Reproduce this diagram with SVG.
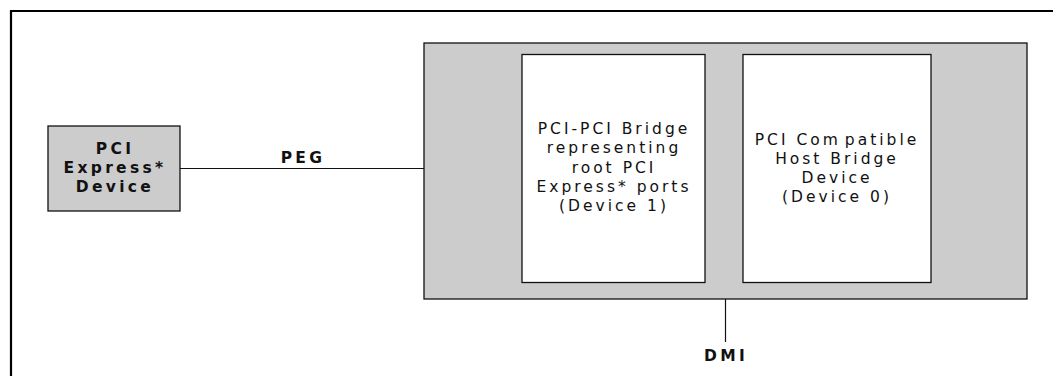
<svg xmlns="http://www.w3.org/2000/svg" width="1053" height="376" viewBox="0 0 1053 376">
<style>
.frame{fill:none;stroke:#000;stroke-width:2.2}
.gray{fill:#cccccc;stroke:#111;stroke-width:1.3}
.white{fill:#fff;stroke:#111;stroke-width:1.3}
.line{fill:none;stroke:#111;stroke-width:1.2}
.b{font-family:"DejaVu Sans",Verdana,sans-serif;font-size:15.5px;font-weight:bold;letter-spacing:3.3px;text-anchor:middle;fill:#111}
.r{font-family:"DejaVu Sans",Verdana,sans-serif;font-size:15.5px;letter-spacing:3px;text-anchor:middle;fill:#111}
</style>
<rect width="1053" height="376" fill="#fff"/>
<path class="frame" d="M11,376 V11 H1053"/>
<g id="connectors">
<line class="line" x1="180" y1="168.5" x2="424" y2="168.5"/>
<line class="line" x1="725.5" y1="299" x2="725.5" y2="342"/>
<text class="b" x="303" y="163">PEG</text>
<text class="b" x="726" y="361">DMI</text>
</g>
<g id="pci-express-device">
<rect class="gray" x="48" y="126" width="132" height="85"/>
<text class="b" x="115" y="154">PCI</text>
<text class="b" x="115" y="173">Express*</text>
<text class="b" x="115" y="192">Device</text>
</g>
<g id="host">
<rect class="gray" x="424" y="43" width="603" height="256"/>
</g>
<g id="device1">
<rect class="white" x="522" y="54.5" width="183" height="228"/>
<text class="r" x="614" y="134">PCI-PCI Bridge</text>
<text class="r" x="614" y="153">representing</text>
<text class="r" x="614" y="172.5">root PCI</text>
<text class="r" x="614" y="191.5">Express* ports</text>
<text class="r" x="614" y="211">(Device 1)</text>
</g>
<g id="device0">
<rect class="white" x="743" y="54.5" width="188" height="228"/>
<text class="r" x="837" y="145">PCI Com<tspan dx="4">patible</tspan></text>
<text class="r" x="837" y="164">Host Bridge</text>
<text class="r" x="837" y="183">Device</text>
<text class="r" x="837" y="202">(Device 0)</text>
</g>
</svg>
